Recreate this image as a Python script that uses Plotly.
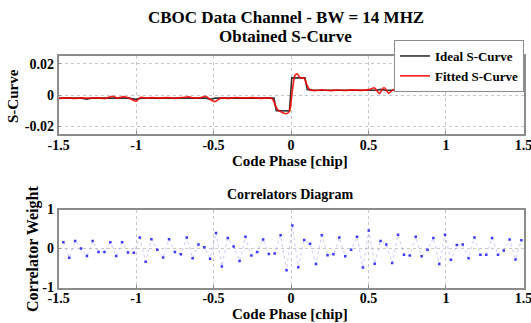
import plotly.graph_objects as go

# ---------------- data ----------------
ideal_x = [-1.5, -1.35, -1.32, -1.29, -1.05, -1.0, -0.97, -0.55, -0.52, -0.49,
           -0.11, -0.095, -0.01, 0.005, 0.09, 0.105, 0.13, 0.55, 0.58, 0.61, 1.5]
ideal_y = [-0.0020, -0.0020, -0.0026, -0.0020, -0.0020, -0.0028, -0.0020, -0.0020, -0.0027, -0.0020,
           -0.0020, -0.0100, -0.0102, 0.0110, 0.0110, 0.0035, 0.0030, 0.0030, 0.0036, 0.0030, 0.0030]

fit_x = [-1.50, -1.45, -1.40, -1.35, -1.30, -1.25, -1.20, -1.15, -1.12, -1.08,
         -1.04, -1.00, -0.97, -0.93, -0.90, -0.85, -0.80, -0.75, -0.70, -0.66,
         -0.62, -0.58, -0.55, -0.52, -0.49, -0.45, -0.40, -0.35, -0.30, -0.25,
         -0.20, -0.15, -0.12, -0.09, -0.06, -0.03, -0.01, 0.01, 0.025, 0.04,
         0.06, 0.085, 0.10, 0.12, 0.15, 0.20, 0.25, 0.30, 0.35, 0.40,
         0.45, 0.50, 0.54, 0.57, 0.60, 0.63, 0.66, 0.70, 0.75, 0.80,
         0.85, 0.90, 0.95, 1.00, 1.05, 1.10, 1.15, 1.20, 1.25, 1.30,
         1.35, 1.40, 1.45, 1.50]
fit_y = [-0.0022, -0.0018, -0.0021, -0.0019, -0.0020, -0.0018, -0.0022, -0.0008, -0.0020, -0.0010,
         -0.0022, -0.0040, -0.0015, -0.0020, -0.0017, -0.0021, -0.0017, -0.0021, -0.0016, -0.0012,
         -0.0020, -0.0016, -0.0008, -0.0030, -0.0042, -0.0018, -0.0021, -0.0016, -0.0020, -0.0017,
         -0.0021, -0.0018, -0.0025, -0.0090, -0.0110, -0.0120, -0.0105, 0.0040, 0.0125, 0.0135,
         0.0110, 0.0108, 0.0070, 0.0035, 0.0028, 0.0033, 0.0028, 0.0032, 0.0029, 0.0033,
         0.0030, 0.0034, 0.0045, 0.0010, 0.0048, 0.0012, 0.0034, 0.0029, 0.0033, 0.0029,
         0.0032, 0.0038, 0.0028, 0.0032, 0.0029, 0.0033, 0.0030, 0.0033, 0.0029, 0.0032,
         0.0030, 0.0033, 0.0029, 0.0032]

corr_x = [-1.469, -1.431, -1.393, -1.355, -1.317, -1.280, -1.242, -1.204, -1.166, -1.128,
          -1.090, -1.052, -1.014, -0.976, -0.938, -0.901, -0.863, -0.825, -0.787, -0.749,
          -0.711, -0.673, -0.635, -0.597, -0.559, -0.522, -0.484, -0.446, -0.408, -0.370,
          -0.332, -0.294, -0.256, -0.218, -0.180, -0.143, -0.105, -0.067, -0.029, 0.009,
          0.047, 0.085, 0.123, 0.161, 0.199, 0.236, 0.274, 0.312, 0.350, 0.388,
          0.426, 0.464, 0.502, 0.540, 0.578, 0.615, 0.653, 0.691, 0.729, 0.767,
          0.805, 0.843, 0.881, 0.919, 0.957, 0.994, 1.032, 1.070, 1.108, 1.146,
          1.184, 1.222, 1.260, 1.298, 1.336, 1.373, 1.411, 1.449, 1.487]
corr_w = [0.16, -0.24, 0.19, 0.00, -0.19, 0.19, -0.09, -0.09, 0.16, -0.19,
          0.16, -0.10, -0.11, 0.28, -0.34, 0.24, -0.03, -0.23, 0.24, -0.09,
          -0.15, 0.28, -0.25, 0.10, 0.03, -0.26, 0.40, -0.46, 0.27, 0.05,
          -0.32, 0.30, -0.18, -0.09, 0.23, -0.14, -0.13, 0.34, -0.56, 0.59,
          -0.48, 0.22, 0.12, -0.40, 0.34, -0.17, -0.15, 0.28, -0.20, -0.03,
          0.30, -0.49, 0.46, -0.39, 0.19, 0.10, -0.37, 0.35, -0.16, -0.18,
          0.30, -0.20, -0.03, 0.27, -0.40, 0.35, -0.29, 0.09, 0.10, -0.25,
          0.28, -0.16, -0.16, 0.27, -0.16, -0.05, 0.23, -0.28, 0.21]

x_ticks = [-1.5, -1, -0.5, 0, 0.5, 1, 1.5]
x_ticklabels = ["-1.5", "-1", "-0.5", "0", "0.5", "1", "1.5"]
y1_ticks = [-0.02, 0, 0.02]
y1_ticklabels = ["-0.02", "0", "0.02"]
y2_ticks = [-1, 0, 1]
y2_ticklabels = ["-1", "0", "1"]

# ---------------- figure ----------------
W, H = 531, 323
FONT = "Liberation Serif"

fig = go.Figure()
fig.add_trace(go.Scatter(x=ideal_x, y=ideal_y, mode="lines", name="Ideal S-Curve",
                         line=dict(color="#333333", width=1.6), xaxis="x", yaxis="y"))
fig.add_trace(go.Scatter(x=fit_x, y=fit_y, mode="lines", name="Fitted S-Curve",
                         line=dict(color="rgba(255,0,0,0.85)", width=1.7, shape="spline", smoothing=0.6),
                         xaxis="x", yaxis="y"))
fig.add_trace(go.Scatter(x=corr_x, y=corr_w, mode="lines+markers", showlegend=False,
                         line=dict(color="rgba(120,120,255,0.4)", width=1, dash="dot"),
                         marker=dict(color="#3a3aff", size=2.5, symbol="square"),
                         xaxis="x2", yaxis="y2"))

def px_x(p):
    return p / W

def px_y(p):
    return 1 - p / H

axis_common = dict(
    showline=True, mirror=True, linecolor="#8c8c8c", linewidth=1.5,
    showgrid=True, gridcolor="#c8c8c8", griddash="dot", gridwidth=1,
    zeroline=False, ticks="inside", ticklen=3, tickcolor="#8c8c8c",
    automargin=False, ticklabeloverflow="allow",
    tickfont=dict(family=FONT, size=14, color="black", weight="bold"),
)
XR = [-1.5005, 1.5005]

fig.update_layout(
    width=W, height=H,
    margin=dict(l=0, r=0, t=0, b=0, autoexpand=False),
    paper_bgcolor="white", plot_bgcolor="white",
    font=dict(family=FONT, color="black"),
    xaxis=dict(domain=[px_x(58.5), px_x(523.5)], range=XR, anchor="y", ticklabelstandoff=-3,
               tickvals=x_ticks, ticktext=x_ticklabels, **axis_common),
    yaxis=dict(domain=[px_y(134), px_y(56)], range=[-0.025, 0.025], anchor="x",
               tickvals=y1_ticks, ticktext=y1_ticklabels, **axis_common),
    xaxis2=dict(domain=[px_x(58.5), px_x(523.5)], range=XR, anchor="y2", ticklabelstandoff=-3,
                tickvals=x_ticks, ticktext=x_ticklabels, **axis_common),
    yaxis2=dict(domain=[px_y(287.5), px_y(209.5)], range=[-1, 1], anchor="x2",
                tickvals=y2_ticks, ticktext=y2_ticklabels, **axis_common),
    legend=dict(x=px_x(524), xanchor="right", y=px_y(40), yanchor="top",
                bgcolor="white", bordercolor="#8c8c8c", borderwidth=1,
                font=dict(family=FONT, size=13, color="black", weight="bold"),
                tracegroupgap=0, itemwidth=30),
    showlegend=True,
)

bold = lambda s: "<b>" + s + "</b>"
ann = [
    dict(text=bold("CBOC Data Channel - BW = 14 MHZ"), x=px_x(286), y=px_y(17.5), font=dict(size=17)),
    dict(text=bold("Obtained S-Curve"), x=px_x(285), y=px_y(36.5), font=dict(size=17)),
    dict(text=bold("Code Phase [chip]"), x=px_x(290), y=px_y(161), font=dict(size=15)),
    dict(text=bold("S-Curve"), x=px_x(13), y=px_y(96), font=dict(size=15), textangle=-90),
    dict(text=bold("Correlators Diagram"), x=px_x(290), y=px_y(194), font=dict(size=14)),
    dict(text=bold("Code Phase [chip]"), x=px_x(290), y=px_y(314), font=dict(size=15)),
    dict(text=bold("Correlator Weight"), x=px_x(33), y=px_y(249), font=dict(size=16), textangle=-90),
]
for a in ann:
    a.update(xref="paper", yref="paper", showarrow=False, xanchor="center", yanchor="middle")
    a["font"].update(family=FONT, color="black")
fig.update_layout(annotations=ann)

fig.write_html("out.html", config={"displayModeBar": False},
               post_script="document.body.style.margin='0px';document.body.style.overflow='hidden';")
